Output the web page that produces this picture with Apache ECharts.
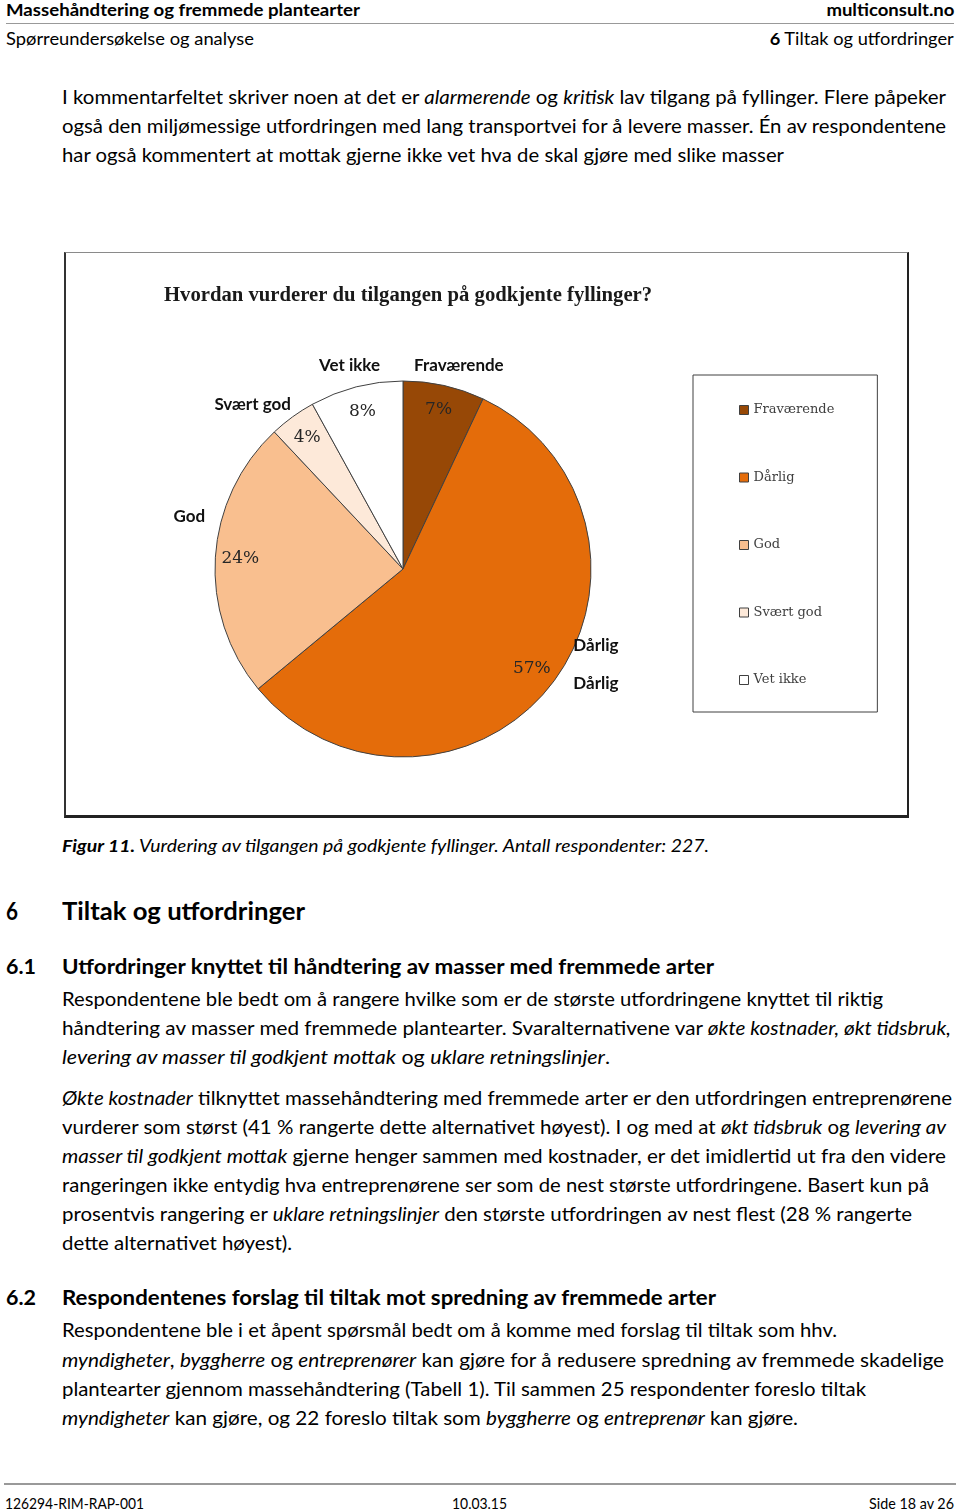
<!DOCTYPE html>
<html>
<head>
<meta charset="utf-8">
<script src="https://cdn.jsdelivr.net/npm/echarts@6/dist/echarts.min.js"></script>
<style>
  html, body { margin:0; padding:0; background:#fff; }
  body { width:960px; height:1512px; position:relative; overflow:hidden; font-family:Lato, "Open Sans", sans-serif; color:#000; }
  .ln { position:absolute; white-space:nowrap; display:inline-block; line-height:24px; font-size:19px; transform-origin:left center; }
  .ln.r { transform-origin:right center; }
  .hb { font-weight:700; }
  .hr { position:absolute; height:0; border-top:1px solid #999; }
  #frame { position:absolute; left:64px; top:252px; width:845px; height:566px; box-sizing:border-box;
           border-top:1px solid #8a8a8a; border-left:2px solid #333; border-right:2px solid #222; border-bottom:3px solid #222; }
  #chart { position:absolute; left:0; top:0; width:841px; height:562px; }
</style>
</head>
<body>
<!-- header -->
<div class="ln hb" data-x="6" data-y="10" data-w="354" style="font-size:17px">Massehåndtering og fremmede plantearter</div>
<div class="ln hb r" data-r="954" data-y="10" data-w="128" style="font-size:17px">multiconsult.no</div>
<div class="hr" style="left:6px;top:23px;width:948px"></div>
<div class="ln" data-x="6" data-y="39" data-w="248" style="font-size:17px">Spørreundersøkelse og analyse</div>
<div class="ln r" data-r="954" data-y="39" data-w="184" style="font-size:17px"><b>6</b> Tiltak og utfordringer</div>

<!-- paragraph 1 -->
<div class="ln" data-x="62" data-y="97" data-w="884">I kommentarfeltet skriver noen at det er <i>alarmerende</i> og <i>kritisk</i> lav tilgang på fyllinger. Flere påpeker</div>
<div class="ln" data-x="62" data-y="126" data-w="884">også den miljømessige utfordringen med lang transportvei for å levere masser. Én av respondentene</div>
<div class="ln" data-x="62" data-y="155" data-w="722">har også kommentert at mottak gjerne ikke vet hva de skal gjøre med slike masser</div>

<div id="frame"><div id="chart"></div></div>

<div class="ln" data-x="62" data-y="846" data-w="647" style="font-size:17px;font-style:italic"><b>Figur 11.</b> Vurdering av tilgangen på godkjente fyllinger. Antall respondenter: 227.</div>

<div class="ln hb" data-x="6" data-y="910" data-w="12" style="font-size:25px;line-height:30px">6</div>
<div class="ln hb" data-x="62" data-y="910" data-w="243" style="font-size:25px;line-height:30px">Tiltak og utfordringer</div>

<div class="ln hb" data-x="6" data-y="966" data-w="30" style="font-size:21px">6.1</div>
<div class="ln hb" data-x="62" data-y="966" data-w="652" style="font-size:21px">Utfordringer knyttet til håndtering av masser med fremmede arter</div>
<div class="ln" data-x="62" data-y="999" data-w="821">Respondentene ble bedt om å rangere hvilke som er de største utfordringene knyttet til riktig</div>
<div class="ln" data-x="62" data-y="1028" data-w="889">håndtering av masser med fremmede plantearter. Svaralternativene var <i>økte kostnader, økt tidsbruk,</i></div>
<div class="ln" data-x="62" data-y="1057" data-w="548"><i>levering av masser til godkjent mottak</i> og <i>uklare retningslinjer</i>.</div>

<div class="ln" data-x="62" data-y="1098" data-w="890"><i>Økte kostnader</i> tilknyttet massehåndtering med fremmede arter er den utfordringen entreprenørene</div>
<div class="ln" data-x="62" data-y="1127" data-w="884">vurderer som størst (41 % rangerte dette alternativet høyest). I og med at <i>økt tidsbruk</i> og <i>levering av</i></div>
<div class="ln" data-x="62" data-y="1156" data-w="884"><i>masser til godkjent mottak</i> gjerne henger sammen med kostnader, er det imidlertid ut fra den videre</div>
<div class="ln" data-x="62" data-y="1185" data-w="867">rangeringen ikke entydig hva entreprenørene ser som de nest største utfordringene. Basert kun på</div>
<div class="ln" data-x="62" data-y="1214" data-w="850">prosentvis rangering er <i>uklare retningslinjer</i> den største utfordringen av nest flest (28 % rangerte</div>
<div class="ln" data-x="62" data-y="1243" data-w="230">dette alternativet høyest).</div>

<div class="ln hb" data-x="6" data-y="1297" data-w="30" style="font-size:21px">6.2</div>
<div class="ln hb" data-x="62" data-y="1297" data-w="654" style="font-size:21px">Respondentenes forslag til tiltak mot spredning av fremmede arter</div>
<div class="ln" data-x="62" data-y="1330" data-w="775">Respondentene ble i et åpent spørsmål bedt om å komme med forslag til tiltak som hhv.</div>
<div class="ln" data-x="62" data-y="1360" data-w="882"><i>myndigheter</i>, <i>byggherre</i> og <i>entreprenører</i> kan gjøre for å redusere spredning av fremmede skadelige</div>
<div class="ln" data-x="62" data-y="1389" data-w="804">plantearter gjennom massehåndtering (Tabell 1). Til sammen 25 respondenter foreslo tiltak</div>
<div class="ln" data-x="62" data-y="1418" data-w="736"><i>myndigheter</i> kan gjøre, og 22 foreslo tiltak som <i>byggherre</i> og <i>entreprenør</i> kan gjøre.</div>

<!-- footer -->
<div class="hr" style="left:4px;top:1483px;width:952px;border-top:2px solid #999"></div>
<div class="ln" data-x="5" data-y="1503" data-w="139" style="font-size:15px">126294-RIM-RAP-001</div>
<div class="ln" data-x="452" data-y="1503" data-w="55" style="font-size:15px">10.03.15</div>
<div class="ln r" data-r="954" data-y="1503" data-w="85" style="font-size:15px">Side 18 av 26</div>

<script>
// ---- chart data ----
const title = 'Hvordan vurderer du tilgangen på godkjente fyllinger?';
const categories = ['Fraværende', 'Dårlig', 'God', 'Svært god', 'Vet ikke'];
const values = [7, 57, 24, 4, 8];
const colors = ['#974806', '#E46C0A', '#F9BF8F', '#FDE9D9', '#FFFFFF'];

// ---- lay out text lines ----
document.querySelectorAll('.ln').forEach(function (el) {
  const lh = parseFloat(getComputedStyle(el).lineHeight);
  el.style.top = (parseFloat(el.dataset.y) - lh / 2) + 'px';
  const w = el.getBoundingClientRect().width;
  const target = parseFloat(el.dataset.w);
  if (el.dataset.r) {
    el.style.left = (parseFloat(el.dataset.r) - w) + 'px';
  } else {
    el.style.left = el.dataset.x + 'px';
  }
  el.style.transform = 'scaleX(' + (target / w) + ')';
});

// ---- chart ----
const chart = echarts.init(document.getElementById('chart'), null, { renderer: 'canvas' });
const mainData = categories.map(function (c, i) {
  return { name: c, value: values[i], itemStyle: { color: colors[i] } };
});
const plainData = categories.map(function (c, i) { return { name: c, value: values[i] }; });

// label nudges (layout only), like the hand-placed data labels in the original
const nameLabelOffset = {
  'Fraværende': [9, 6], 'Dårlig': [23, -36], 'God': [1, -39], 'Svært god': [-24, 9], 'Vet ikke': [0, 5]
};
const nameData = categories.map(function (c, i) {
  return { name: c, value: values[i], label: { offset: nameLabelOffset[c] } };
});

const center = [337, 316];
const R = 188;

chart.setOption({
  animation: false,
  title: {
    text: title, left: 98, top: 32, padding: 0,
    textStyle: { fontFamily: '"Liberation Serif", serif', fontWeight: 'bold', fontSize: 20.7, color: '#1a1a1a' }
  },
  legend: {
    orient: 'vertical', left: 627, top: 122,
    padding: [27, 43, 24, 46],
    borderColor: '#404040', borderWidth: 1,
    icon: 'rect', itemWidth: 9, itemHeight: 9, itemGap: 51.5,
    selectedMode: false,
    itemStyle: { borderColor: '#404040', borderWidth: 1 },
    textStyle: { fontFamily: '"DejaVu Serif", serif', fontSize: 13, lineHeight: 16, color: '#404040' },
    data: categories
  },
  series: [
    {
      type: 'pie', center: center, radius: [0, R], startAngle: 90, clockwise: true,
      silent: true, label: { show: false }, labelLine: { show: false },
      itemStyle: { borderColor: '#404040', borderWidth: 1 },
      data: mainData
    },
    {
      type: 'pie', center: center, radius: [132, R], startAngle: 90, clockwise: true,
      silent: true, labelLine: { show: false },
      itemStyle: { color: 'rgba(0,0,0,0)', borderWidth: 0 },
      label: { show: true, position: 'inside', formatter: '{c}%',
        fontFamily: '"DejaVu Serif", serif', fontSize: 17, color: '#262626' },
      data: plainData
    },
    {
      type: 'pie', center: center, radius: [200, 224], startAngle: 90, clockwise: true,
      silent: true, labelLine: { show: false },
      itemStyle: { color: 'rgba(0,0,0,0)', borderWidth: 0 },
      label: { show: true, position: 'inside', lineHeight: 38,
        // the original shows the "Dårlig" label twice
        formatter: function (p) { return p.name === 'Dårlig' ? p.name + '\n' + p.name : p.name; },
        fontFamily: 'Lato, sans-serif', fontWeight: 'bold', fontSize: 17, color: '#111' },
      data: nameData
    }
  ]
});
</script>
</body>
</html>
